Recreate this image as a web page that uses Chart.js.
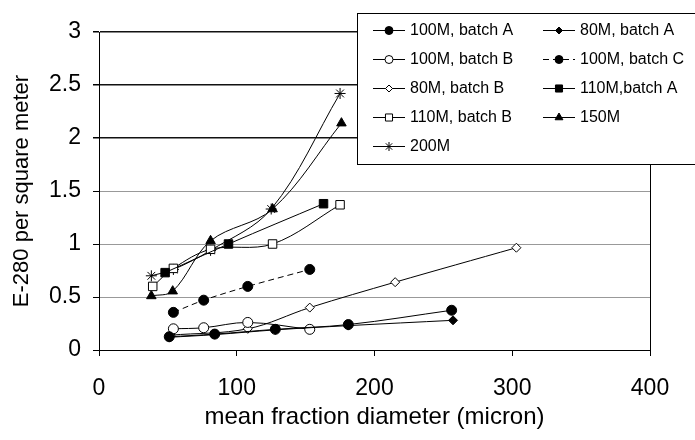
<!DOCTYPE html>
<html>
<head>
<meta charset="utf-8">
<script src="https://cdn.jsdelivr.net/npm/chart.js@4.4.1/dist/chart.umd.min.js"></script>
<style>
  html, body { margin: 0; padding: 0; background: #fff; }
</style>
</head>
<body>
<canvas id="chart" width="695" height="440"></canvas>
<script>
// mean fraction diameter (micron) against E-280 per square meter, one pair per sample
const x100A = [51, 84, 128, 181, 256];
const y100A = [0.125, 0.15, 0.195, 0.24, 0.375];

const x80A = [51, 84, 128, 181, 257];
const y80A = [0.12, 0.145, 0.19, 0.23, 0.28];

const x100B = [54, 76, 108, 153];
const y100B = [0.2, 0.21, 0.26, 0.195];

const x100C = [54, 76, 108, 153];
const y100C = [0.355, 0.47, 0.6, 0.76];

const x80B = [52, 108, 153, 215, 303];
const y80B = [0.14, 0.2, 0.4, 0.64, 0.965];

const x110A = [48, 94, 163];
const y110A = [0.73, 1.0, 1.38];

const x110B = [39, 54, 81, 126, 175];
const y110B = [0.6, 0.77, 0.95, 1.0, 1.37];

const x150 = [38, 53.5, 81, 126, 176];
const y150 = [0.51, 0.555, 1.03, 1.33, 2.14];

const x200 = [38, 54, 81, 125, 175];
const y200 = [0.7, 0.76, 0.94, 1.33, 2.42];

const xTicks = [0, 100, 200, 300, 400];
const yTicks = [0, 0.5, 1, 1.5, 2, 2.5, 3];

Chart.defaults.font.family = '"Liberation Sans", Arial, sans-serif';
Chart.defaults.color = '#000';

function series(label, xs, ys, style) {
  return Object.assign({
    label: label,
    data: xs.map((x, i) => ({ x: x, y: ys[i] })),
    borderColor: '#000',
    borderWidth: 1,
    pointBorderColor: '#000',
    pointBorderWidth: 1,
    pointBackgroundColor: '#000',
    pointRadius: 5,
    tension: 0.35,
    fill: false
  }, style);
}

const datasets = [
  series('100M, batch A', x100A, y100A, { pointStyle: 'circle', pointRadius: 5 }),
  series('80M, batch A', x80A, y80A, { pointStyle: 'rectRot', pointRadius: 4.5 }),
  series('100M, batch B', x100B, y100B, { pointStyle: 'circle', pointBackgroundColor: '#fff' }),
  series('100M, batch C', x100C, y100C, { pointStyle: 'circle', borderDash: [6, 4] }),
  series('80M, batch B', x80B, y80B, { pointStyle: 'rectRot', pointRadius: 4.5, pointBackgroundColor: '#fff' }),
  series('110M,batch A', x110A, y110A, { pointStyle: 'rect', pointRadius: 6 }),
  series('110M, batch B', x110B, y110B, { pointStyle: 'rect', pointRadius: 6, pointBackgroundColor: '#fff' }),
  series('150M', x150, y150, { pointStyle: 'triangle', pointRadius: 5.5 }),
  series('200M', x200, y200, { pointStyle: 'star', pointRadius: 5.5 })
];

// right edge of the plot and the boxed legend laid over the upper right corner
const frameAndLegend = {
  id: 'frameAndLegend',
  beforeDatasetsDraw(chart) {
    const { ctx, chartArea: a } = chart;
    ctx.save();
    ctx.strokeStyle = '#000';
    ctx.lineWidth = 1;
    ctx.beginPath();
    ctx.moveTo(Math.round(a.right) + 0.5, a.top);
    ctx.lineTo(Math.round(a.right) + 0.5, a.bottom);
    ctx.stroke();
    ctx.restore();
  },
  afterDraw(chart) {
    const ctx = chart.ctx;
    const box = { x: 357.5, y: 13.5, w: 400, h: 151 };
    ctx.save();
    ctx.fillStyle = '#fff';
    ctx.fillRect(box.x, box.y, box.w, box.h);
    ctx.strokeStyle = '#000';
    ctx.lineWidth = 1;
    ctx.strokeRect(box.x, box.y, box.w, box.h);

    const cols = [373, 543];
    ctx.font = '16px "Liberation Sans", Arial, sans-serif';
    ctx.textBaseline = 'middle';
    chart.data.datasets.forEach((ds, i) => {
      const x0 = cols[i % 2];
      const y = Math.round(30 + Math.floor(i / 2) * 29) + 0.5;
      ctx.strokeStyle = '#000';
      ctx.lineWidth = 1;
      ctx.setLineDash(ds.borderDash || []);
      ctx.beginPath();
      ctx.moveTo(x0, y);
      ctx.lineTo(x0 + 32, y);
      ctx.stroke();
      ctx.setLineDash([]);
      ctx.fillStyle = ds.pointBackgroundColor;
      Chart.helpers.drawPoint(ctx, {
        pointStyle: ds.pointStyle,
        radius: Math.max(3.5, ds.pointRadius - 1),
        rotation: 0,
        borderWidth: 1
      }, x0 + 16, y);
      ctx.fillStyle = '#000';
      ctx.fillText(ds.label, x0 + 37, y);
    });
    ctx.restore();
  }
};

new Chart(document.getElementById('chart'), {
  type: 'line',
  data: { datasets: datasets },
  plugins: [frameAndLegend],
  options: {
    responsive: false,
    animation: false,
    events: [],
    layout: { padding: { top: 32, right: 45, left: 0, bottom: 0 } },
    plugins: {
      legend: { display: false },
      tooltip: { enabled: false }
    },
    scales: {
      x: {
        type: 'linear',
        min: 0,
        max: 400,
        afterBuildTicks: s => { s.ticks = xTicks.map(v => ({ value: v })); },
        afterFit: s => { s.height = 90; },
        ticks: { font: { size: 23 }, padding: 19, callback: v => String(v) },
        grid: { drawOnChartArea: false, tickLength: 6, tickColor: '#000' },
        border: { color: '#000', width: 1 },
        title: {
          display: true,
          text: 'mean fraction diameter (micron)',
          font: { size: 24 },
          padding: { bottom: 8 }
        }
      },
      y: {
        min: 0,
        max: 3,
        afterBuildTicks: s => { s.ticks = yTicks.map(v => ({ value: v })); },
        afterFit: s => { s.width = 99; },
        ticks: { font: { size: 23 }, padding: 12, callback: v => String(v) },
        grid: {
          color: c => (c.tick && c.tick.value >= 2 ? '#111' : '#999'),
          lineWidth: c => (c.tick && c.tick.value >= 2 ? 1.5 : 1),
          tickLength: 6,
          tickColor: '#000'
        },
        border: { color: '#000', width: 1 },
        title: {
          display: true,
          text: 'E-280 per square meter',
          font: { size: 22 },
          padding: { top: 9 }
        }
      }
    }
  }
});
</script>
</body>
</html>
